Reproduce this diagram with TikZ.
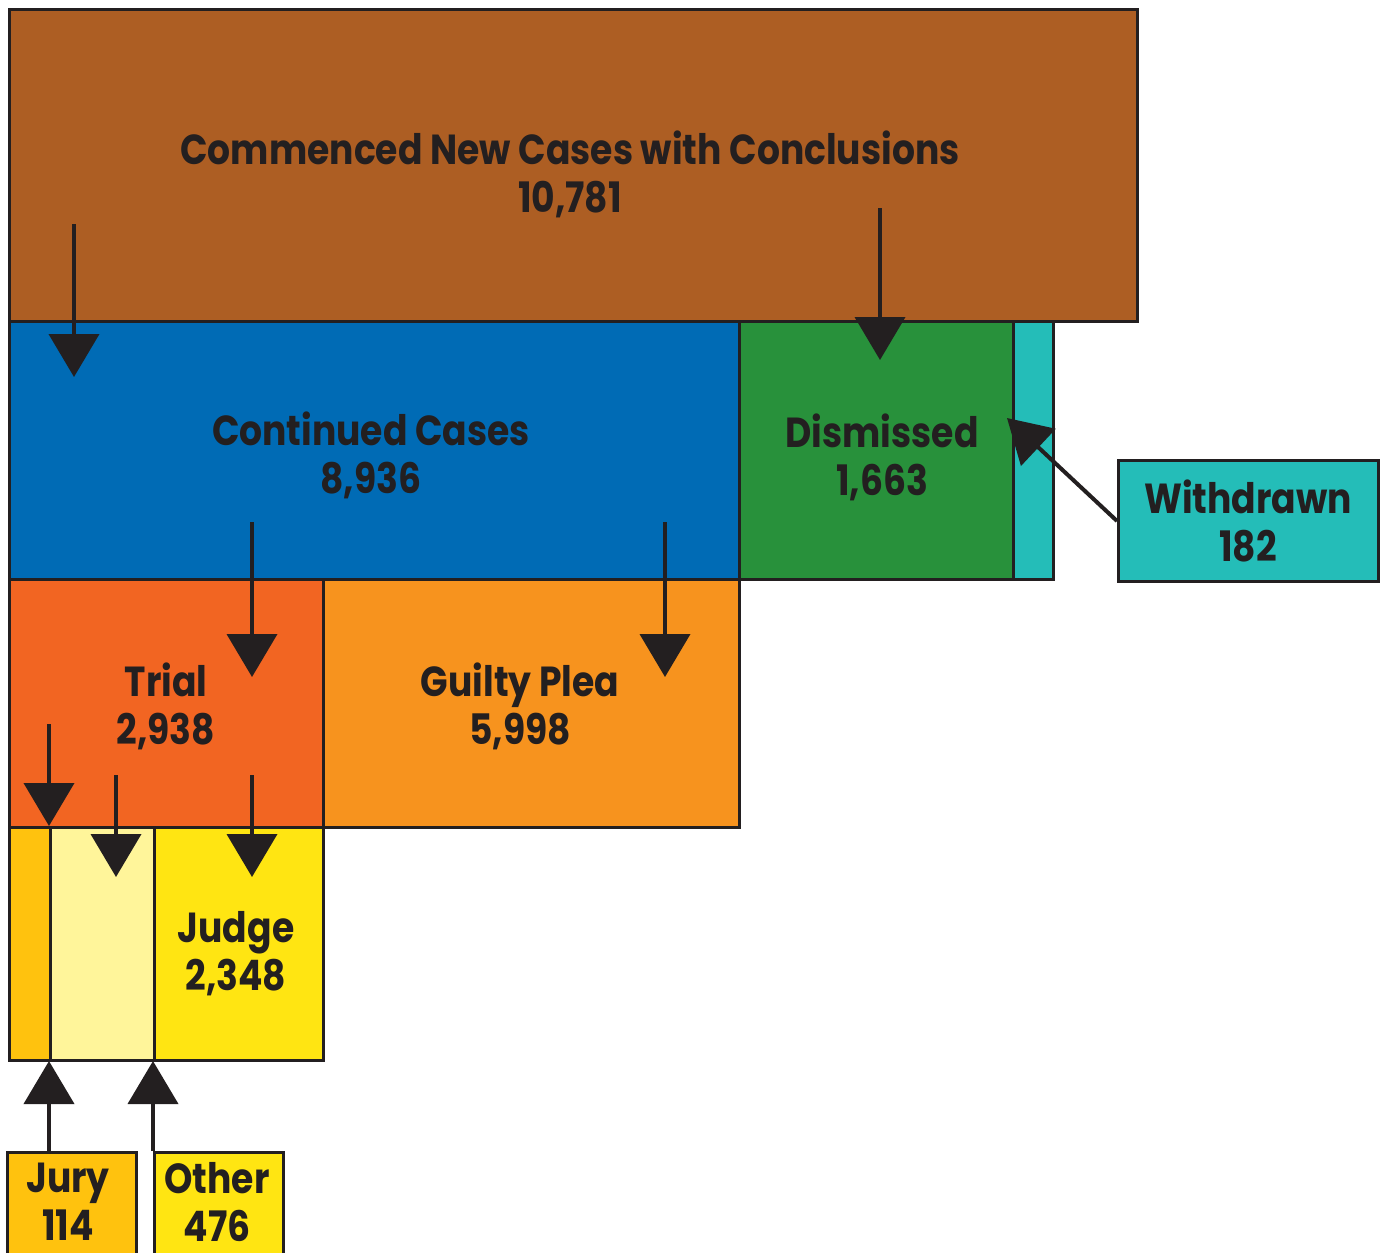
\documentclass[tikz,border=0pt]{standalone}
\usepackage{fontspec}
\usepackage{xcolor}
\usepackage{tikz}
\usetikzlibrary{calc,arrows.meta}
\newfontfamily\labfont{Poppins}[FakeStretch=0.86]
\definecolor{ink}{HTML}{231F20}
\definecolor{rust}{HTML}{AD5E23}
\definecolor{azure}{HTML}{006BB5}
\definecolor{leaf}{HTML}{28913B}
\definecolor{teal}{HTML}{24BDB8}
\definecolor{flame}{HTML}{F26522}
\definecolor{amber}{HTML}{F7931E}
\definecolor{gold}{HTML}{FFC20E}
\definecolor{cream}{HTML}{FFF59A}
\definecolor{lemon}{HTML}{FFE512}
\tikzset{
  box/.style={draw=ink, line width=1.5pt, anchor=north west, inner sep=0pt},
  lab/.style={text=ink, align=center, font=\labfont\bfseries\fontsize{21}{24}\selectfont},
  flow/.style={draw=ink, line width=2pt, -{Triangle[length=21.5pt, width=25pt]}},
}
\begin{document}
\begin{tikzpicture}[x=0.5pt, y=-0.5pt]
  \useasboundingbox (0,0) rectangle (1383,1253);

  % blocks
  \node[box, fill=rust, minimum width=564pt, minimum height=156pt] (commenced) at (8,8) {};
  \node[box, fill=azure, minimum width=365pt, minimum height=129pt] (continued) at (8,320) {};
  \node[box, fill=leaf, minimum width=137pt, minimum height=129pt] (dismissed) at (738,320) {};
  \node[box, fill=teal, minimum width=20pt, minimum height=129pt] (wdstrip) at (1012,320) {};
  \node[box, fill=teal, minimum width=130pt, minimum height=60.5pt] (withdrawn) at (1117,459) {};
  \node[box, fill=flame, minimum width=157pt, minimum height=124pt] (trial) at (8,578) {};
  \node[box, fill=amber, minimum width=208pt, minimum height=124pt] (guilty) at (322,578) {};
  \node[box, fill=gold, minimum width=20.5pt, minimum height=116.5pt] (jurystrip) at (8,826) {};
  \node[box, fill=cream, minimum width=52pt, minimum height=116.5pt] (otherstrip) at (49,826) {};
  \node[box, fill=lemon, minimum width=84.5pt, minimum height=116.5pt] (judge) at (153,826) {};
  \node[box, fill=gold, minimum width=64.5pt, minimum height=60pt] (jury) at (6,1151) {};
  \node[box, fill=lemon, minimum width=64.5pt, minimum height=60pt] (other) at (153,1151) {};

  % labels
  \node[lab] (commencedlab) at (570,174) {Commenced New Cases with Conclusions\\10,781};
  \node[lab] (continuedlab) at (371,455) {Continued Cases\\8,936};
  \node[lab] (dismissedlab) at (882,457) {Dismissed\\1,663};
  \node[lab] (withdrawnlab) at (1248,521) {Withdrawn\\182};
  \node[lab] (triallab) at (166,706) {Trial\\2,938};
  \node[lab] (guiltylab) at (520,706) {Guilty Plea\\5,998};
  \node[lab] (judgelab) at (236,954) {Judge\\2,348};
  \node[lab] (jurylab) at (68,1202) {Jury\\114};
  \node[lab] (otherlab) at (217,1202) {Other\\476};

  % arrow ends
  \coordinate (toContS) at (74,224);   \coordinate (toContE) at (74,377);
  \coordinate (toDismS) at (880,208);  \coordinate (toDismE) at (880,360);
  \coordinate (toTrialS) at (252,522); \coordinate (toTrialE) at (252,677);
  \coordinate (toPleaS) at (665,522);  \coordinate (toPleaE) at (665,677);
  \coordinate (toJuryS) at (49,724);   \coordinate (toJuryE) at (49,826);
  \coordinate (toOthS) at (116,775);   \coordinate (toOthE) at (116,877);
  \coordinate (toJudgeS) at (252,775); \coordinate (toJudgeE) at (252,877);
  \coordinate (juryS) at (49,1151);    \coordinate (juryE) at (49,1061);
  \coordinate (otherE) at (153,1061);
  \coordinate (wdE) at (1007,418);

  \draw[flow] (toContS) -- (toContE);
  \draw[flow] (toDismS) -- (toDismE);
  \draw[flow] (toTrialS) -- (toTrialE);
  \draw[flow] (toPleaS) -- (toPleaE);
  \draw[flow] (toJuryS) -- (toJuryE);
  \draw[flow] (toOthS) -- (toOthE);
  \draw[flow] (toJudgeS) -- (toJudgeE);
  \draw[flow] (juryS) -- (juryE);
  \draw[flow] (other.north west) -- (otherE);
  \draw[flow] (withdrawn.west) -- (wdE);
\end{tikzpicture}
\end{document}
